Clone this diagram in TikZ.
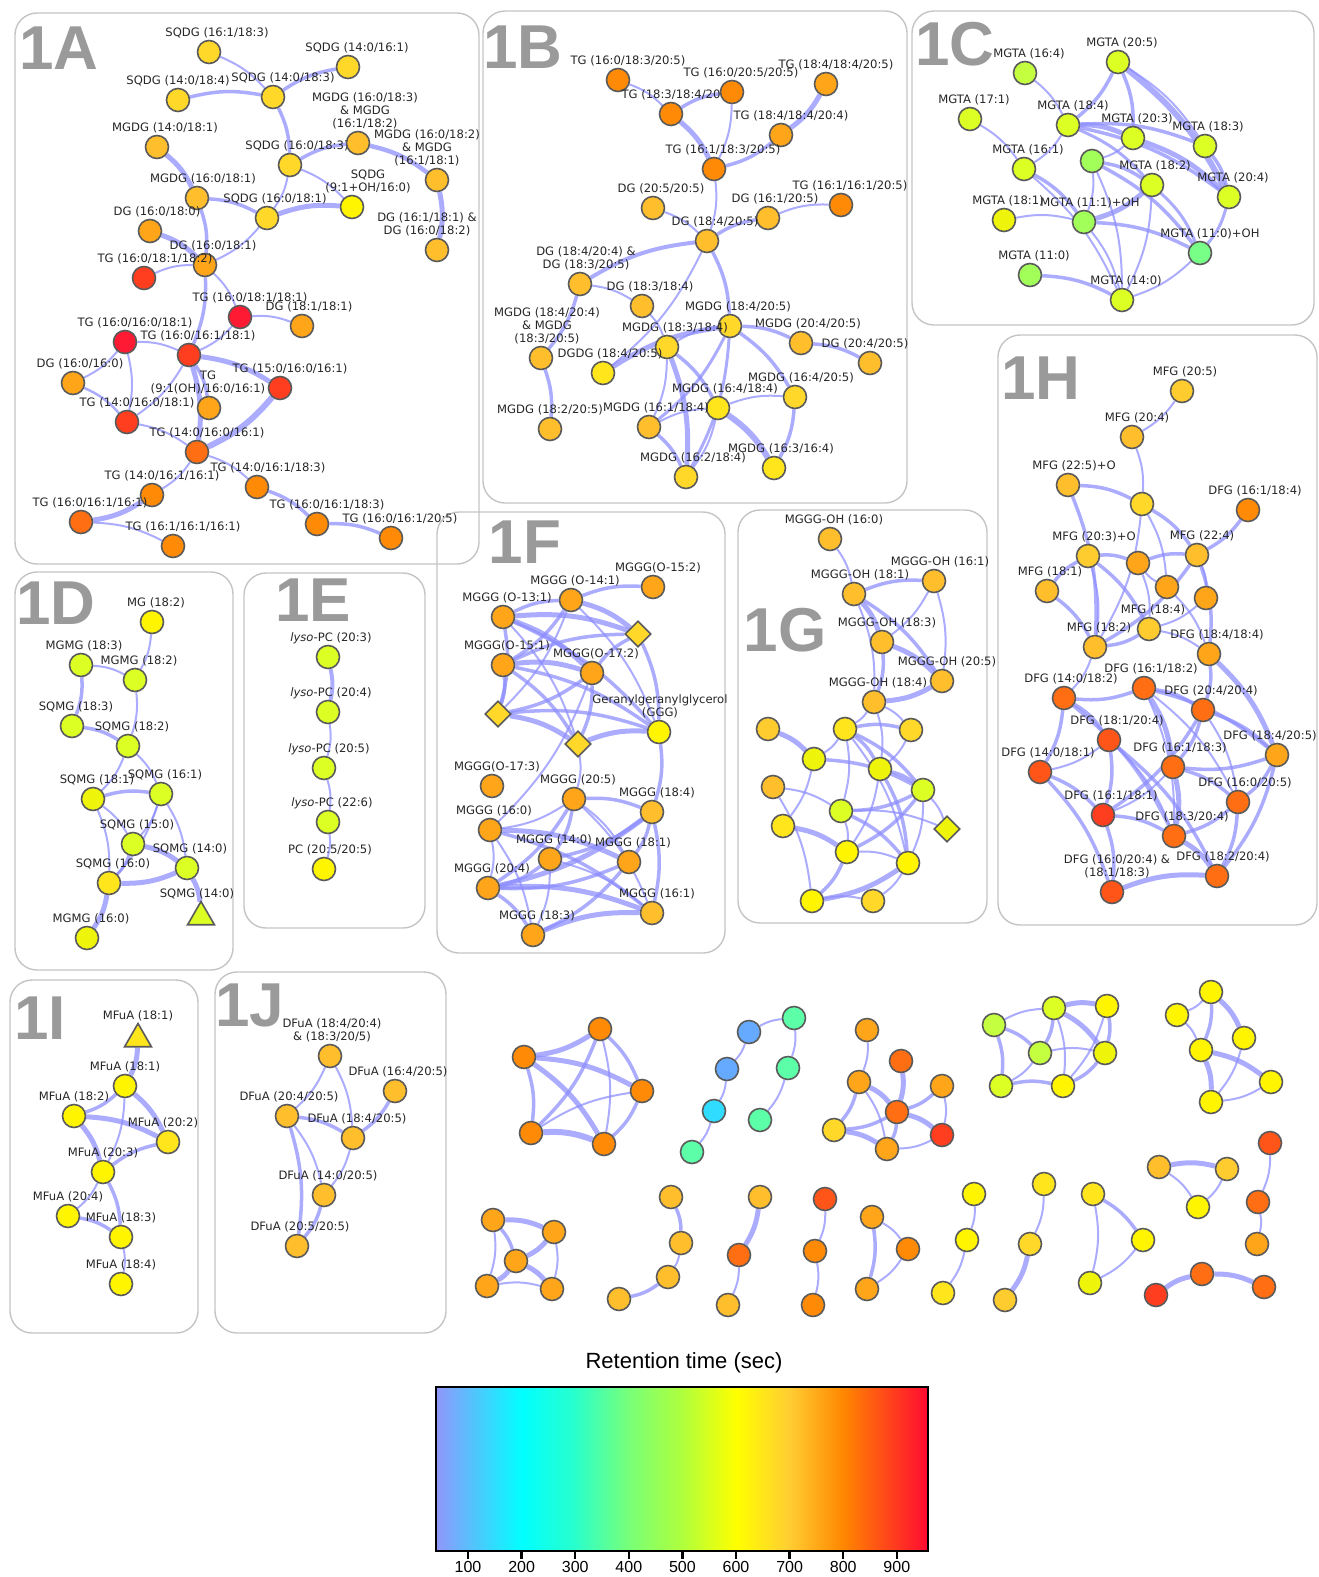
\documentclass[tikz,border=0pt]{standalone}
\usepackage{fontspec}
\newfontfamily\lblfont{DejaVu Sans}
\newfontfamily\arialfont{Liberation Sans}
\usetikzlibrary{shapes.geometric, backgrounds}
\definecolor{cgrey}{HTML}{5A5A5A}
\definecolor{cframe}{HTML}{C4C4C4}
\definecolor{cpanel}{HTML}{9A9A9A}
\definecolor{cedge}{HTML}{8C8CFF}
\definecolor{cR1}{HTML}{FF1A33}
\definecolor{cR2}{HTML}{FF3D1F}
\definecolor{cR3}{HTML}{FF5519}
\definecolor{cO1}{HTML}{FF6E12}
\definecolor{cO2}{HTML}{FF8A05}
\definecolor{cO3}{HTML}{FFA51A}
\definecolor{cO4}{HTML}{FFBE2C}
\definecolor{cY0}{HTML}{FFCC30}
\definecolor{cY1}{HTML}{FFD82A}
\definecolor{cY3}{HTML}{FFE61C}
\definecolor{cY2}{HTML}{FFF500}
\definecolor{cYY}{HTML}{EEF50A}
\definecolor{cYG}{HTML}{DCFF24}
\definecolor{cLG}{HTML}{C4FF40}
\definecolor{cG}{HTML}{A2FF5A}
\definecolor{cGM}{HTML}{77FF88}
\definecolor{cM}{HTML}{5CFFA8}
\definecolor{cC}{HTML}{30DCFF}
\definecolor{cB}{HTML}{66AAFF}
\definecolor{cb0}{RGB}{145,150,250}
\definecolor{cb1}{RGB}{0,255,255}
\definecolor{cb2}{RGB}{40,255,205}
\definecolor{cb3}{RGB}{120,255,120}
\definecolor{cb4}{RGB}{175,255,60}
\definecolor{cb5}{RGB}{255,255,0}
\definecolor{cb6}{RGB}{255,205,50}
\definecolor{cb7}{RGB}{255,135,0}
\definecolor{cb8}{RGB}{255,10,50}
\tikzset{
  every picture/.style={x=1pt, y=-1pt},
  nd/.style={circle, draw=cgrey, line width=1.6pt, minimum size=23pt, inner sep=0pt},
  tri/.style={regular polygon, regular polygon sides=3, draw=cgrey, line width=1.6pt, minimum size=31pt, inner sep=0pt},
  dia/.style={diamond, draw=cgrey, line width=1.6pt, minimum width=26pt, minimum height=26pt, inner sep=0pt},
  lbl/.style={font=\lblfont\fontsize{11.6}{13}\selectfont, text=black!85, inner sep=1pt, align=center},
  panel/.style={draw=cframe, line width=1.4pt, rounded corners=22pt},
  tag/.style={font=\arialfont\bfseries\fontsize{62}{62}\selectfont, text=cpanel, inner sep=0pt},
  edge/.style={draw=cedge, draw opacity=0.72, bend left=12},
  tick/.style={font=\arialfont\fontsize{16}{16}\selectfont, inner sep=0pt},
}
\begin{document}
\begin{tikzpicture}
  % \lnode{name}{x}{y}{fill}{dx}{text}: node with its label above, shifted dx to the right
  \newcommand{\lnode}[6]{\node[nd, fill=#4, label={[lbl, xshift=#5pt]above:#6}] (#1) at (#2,#3) {};}
  \useasboundingbox (0,0) rectangle (1319,1577);
  % panels
  \draw[panel] (15,13) rectangle (479,564);
  \draw[panel] (483,11) rectangle (907,503);
  \draw[panel] (912,11) rectangle (1314,325);
  \draw[panel] (15,572) rectangle (233,970);
  \draw[panel] (244,573) rectangle (425,928);
  \draw[panel] (437,512) rectangle (725,953);
  \draw[panel] (738,510) rectangle (987,923);
  \draw[panel] (998,335) rectangle (1317,925);
  \draw[panel] (10,980) rectangle (198,1333);
  \draw[panel] (215,972) rectangle (446,1333);
  \foreach \n/\x/\y in {1A/59/48, 1B/523/47, 1C/955/44, 1D/56/603, 1E/313/600, 1F/525/542, 1G/785/630, 1H/1041/378, 1I/40/1018, 1J/250/1005}
    \node[tag] (tag\n) at (\x,\y) {\n};

  % 1A
  \lnode{a1}{209}{52}{cY1}{8}{SQDG (16:1/18:3)}
  \lnode{a2}{348}{67}{cY1}{9}{SQDG (14:0/16:1)}
  \lnode{a3}{178}{100}{cY1}{0}{SQDG (14:0/18:4)}
  \lnode{a4}{273}{97}{cY1}{10}{SQDG (14:0/18:3)}
  \lnode{a7}{157}{147}{cO4}{8}{MGDG (14:0/18:1)}
  \lnode{a8}{290}{165}{cY1}{7}{SQDG (16:0/18:3)}
  \lnode{a5}{358}{143}{cO4}{7}{MGDG (16:0/18:3)\\\& MGDG\\(16:1/18:2)}
  \lnode{a6}{437}{180}{cO4}{-10}{MGDG (16:0/18:2)\\\& MGDG\\(16:1/18:1)}
  \lnode{a9}{352}{207}{cY2}{16}{SQDG\\(9:1+OH/16:0)}
  \lnode{a10}{197}{198}{cO4}{6}{MGDG (16:0/18:1)}
  \lnode{a11}{267}{218}{cY1}{8}{SQDG (16:0/18:1)}
  \lnode{a12}{150}{231}{cO3}{7}{DG (16:0/18:0)}
  \lnode{a13}{437}{250}{cO4}{-10}{DG (16:1/18:1) \&\\DG (16:0/18:2)}
  \lnode{a14}{205}{265}{cO3}{8}{DG (16:0/18:1)}
  \lnode{a15}{144}{278}{cR2}{11}{TG (16:0/18:1/18:2)}
  \lnode{a16}{240}{317}{cR1}{10}{TG (16:0/18:1/18:1)}
  \lnode{a17}{302}{326}{cO3}{7}{DG (18:1/18:1)}
  \lnode{a18}{125}{342}{cR1}{10}{TG (16:0/16:0/18:1)}
  \lnode{a19}{189}{355}{cR2}{9}{TG (16:0/16:1/18:1)}
  \lnode{a20}{73}{383}{cO3}{7}{DG (16:0/16:0)}
  \lnode{a21}{280}{388}{cR2}{10}{TG (15:0/16:0/16:1)}
  \lnode{a22}{209}{408}{cO3}{-1}{TG\\(9:1(OH)/16:0/16:1)}
  \lnode{a23}{127}{422}{cR2}{10}{TG (14:0/16:0/18:1)}
  \lnode{a24}{197}{452}{cO1}{10}{TG (14:0/16:0/16:1)}
  \lnode{a25}{257}{487}{cO2}{11}{TG (14:0/16:1/18:3)}
  \lnode{a26}{152}{495}{cO2}{10}{TG (14:0/16:1/16:1)}
  \lnode{a27}{81}{522}{cO1}{9}{TG (16:0/16:1/16:1)}
  \lnode{a28}{317}{524}{cO2}{10}{TG (16:0/16:1/18:3)}
  \lnode{a29}{173}{546}{cO2}{10}{TG (16:1/16:1/16:1)}
  \lnode{a30}{391}{538}{cO2}{9}{TG (16:0/16:1/20:5)}

  % 1B
  \lnode{b1}{618}{80}{cO2}{10}{TG (16:0/18:3/20:5)}
  \lnode{b4}{671}{114}{cO2}{0}{TG (18:3/18:4/20}
  \lnode{b2}{732}{92}{cO2}{9}{TG (16:0/20:5/20:5)}
  \lnode{b3}{826}{84}{cO3}{10}{TG (18:4/18:4/20:5)}
  \lnode{b5}{781}{135}{cO3}{10}{TG (18:4/18:4/20:4)}
  \lnode{b6}{714}{169}{cO2}{9}{TG (16:1/18:3/20:5)}
  \lnode{b7}{653}{208}{cO4}{8}{DG (20:5/20:5)}
  \lnode{b9}{841}{205}{cO2}{9}{TG (16:1/16:1/20:5)}
  \lnode{b8}{768}{218}{cO4}{7}{DG (16:1/20:5)}
  \lnode{b10}{707}{241}{cO4}{8}{DG (18:4/20:5)}
  \lnode{b11}{580}{284}{cO4}{6}{DG (18:4/20:4) \&\\DG (18:3/20:5)}
  \lnode{b12}{642}{306}{cO4}{8}{DG (18:3/18:4)}
  \lnode{b13}{730}{326}{cY1}{8}{MGDG (18:4/20:5)}
  \lnode{b14}{801}{343}{cO4}{7}{MGDG (20:4/20:5)}
  \lnode{b15}{541}{358}{cO4}{6}{MGDG (18:4/20:4)\\\& MGDG\\(18:3/20:5)}
  \lnode{b16}{667}{347}{cY1}{8}{MGDG (18:3/18:4)}
  \lnode{b17}{870}{363}{cO4}{-5}{DG (20:4/20:5)}
  \lnode{b18}{603}{373}{cY3}{7}{DGDG (18:4/20:5)}
  \lnode{b19}{795}{397}{cY1}{6}{MGDG (16:4/20:5)}
  \lnode{b20}{718}{408}{cY3}{7}{MGDG (16:4/18:4)}
  \lnode{b21}{550}{429}{cO4}{0}{MGDG (18:2/20:5)}
  \lnode{b22}{649}{427}{cO4}{7}{MGDG (16:1/18:4)}
  \lnode{b23}{774}{468}{cY3}{7}{MGDG (16:3/16:4)}
  \lnode{b24}{686}{477}{cY1}{7}{MGDG (16:2/18:4)}

  % 1C
  \lnode{c1}{1025}{73}{cLG}{4}{MGTA (16:4)}
  \lnode{c2}{1118}{62}{cYG}{4}{MGTA (20:5)}
  \lnode{c3}{970}{119}{cYG}{4}{MGTA (17:1)}
  \lnode{c4}{1068}{125}{cYG}{5}{MGTA (18:4)}
  \lnode{c5}{1133}{138}{cYG}{4}{MGTA (20:3)}
  \lnode{c6}{1205}{146}{cYG}{3}{MGTA (18:3)}
  \lnode{c7}{1024}{169}{cYG}{4}{MGTA (16:1)}
  \node[nd, fill=cG] (c8) at (1092,161) {};
  \lnode{c9}{1152}{185}{cYG}{3}{MGTA (18:2)}
  \lnode{c10}{1229}{197}{cYG}{4}{MGTA (20:4)}
  \lnode{c11}{1004}{220}{cYY}{4}{MGTA (18:1)}
  \lnode{c12}{1084}{222}{cG}{6}{MGTA (11:1)+OH}
  \lnode{c13}{1200}{253}{cGM}{10}{MGTA (11:0)+OH}
  \lnode{c14}{1030}{275}{cG}{4}{MGTA (11:0)}
  \lnode{c15}{1122}{300}{cYG}{4}{MGTA (14:0)}

  % 1D
  \lnode{d1}{152}{622}{cY2}{4}{MG (18:2)}
  \lnode{d2}{81}{665}{cYG}{3}{MGMG (18:3)}
  \lnode{d3}{135}{680}{cYG}{4}{MGMG (18:2)}
  \lnode{d4}{72}{726}{cYG}{4}{SQMG (18:3)}
  \lnode{d5}{128}{746}{cYG}{4}{SQMG (18:2)}
  \lnode{d6}{93}{799}{cYY}{4}{SQMG (18:1)}
  \lnode{d7}{161}{794}{cYG}{4}{SQMG (16:1)}
  \lnode{d8}{133}{844}{cYG}{4}{SQMG (15:0)}
  \lnode{d9}{187}{868}{cYG}{3}{SQMG (14:0)}
  \lnode{d10}{109}{883}{cY3}{4}{SQMG (16:0)}
  \node[tri, fill=cYG, label={[lbl, xshift=-4pt]above:SQMG (14:0)}] (d11) at (201,917) {};
  \lnode{d12}{87}{938}{cYY}{4}{MGMG (16:0)}

  % 1E
  \lnode{e1}{328}{657}{cYG}{3}{\textit{lyso}-PC (20:3)}
  \lnode{e2}{328}{712}{cYG}{3}{\textit{lyso}-PC (20:4)}
  \lnode{e3}{324}{768}{cYG}{5}{\textit{lyso}-PC (20:5)}
  \lnode{e4}{328}{822}{cYG}{4}{\textit{lyso}-PC (22:6)}
  \lnode{e5}{324}{869}{cY2}{6}{PC (20:5/20:5)}

  % 1F
  \lnode{f1}{653}{587}{cO3}{5}{MGGG(O-15:2)}
  \lnode{f2}{571}{600}{cO3}{4}{MGGG (O-14:1)}
  \lnode{f3}{503}{617}{cO3}{4}{MGGG (O-13:1)}
  \node[dia, fill=cY1] (f4) at (638,634) {};
  \lnode{f5}{503}{665}{cO3}{4}{MGGG(O-15:1)}
  \lnode{f6}{592}{673}{cO3}{4}{MGGG(O-17:2)}
  \lnode{f7}{659}{732}{cY2}{1}{Geranylgeranylglycerol\\(GGG)}
  \node[dia, fill=cY1] (f8) at (498,714) {};
  \node[dia, fill=cY1] (f9) at (578,744) {};
  \lnode{f10}{492}{786}{cO3}{5}{MGGG(O-17:3)}
  \lnode{f11}{574}{799}{cO3}{4}{MGGG (20:5)}
  \lnode{f12}{652}{812}{cO4}{5}{MGGG (18:4)}
  \lnode{f13}{490}{830}{cO3}{4}{MGGG (16:0)}
  \lnode{f14}{550}{859}{cO3}{4}{MGGG (14:0)}
  \lnode{f15}{629}{862}{cO3}{4}{MGGG (18:1)}
  \lnode{f16}{488}{888}{cO3}{4}{MGGG (20:4)}
  \lnode{f17}{652}{913}{cO4}{5}{MGGG (16:1)}
  \lnode{f18}{533}{935}{cO3}{4}{MGGG (18:3)}

  % 1G
  \lnode{g1}{830}{539}{cO4}{4}{MGGG-OH (16:0)}
  \lnode{g2}{934}{581}{cO4}{6}{MGGG-OH (16:1)}
  \lnode{g3}{854}{594}{cO4}{6}{MGGG-OH (18:1)}
  \lnode{g4}{882}{642}{cO4}{5}{MGGG-OH (18:3)}
  \lnode{g5}{942}{681}{cO4}{5}{MGGG-OH (20:5)}
  \lnode{g6}{874}{702}{cO4}{4}{MGGG-OH (18:4)}
  \foreach \n/\x/\y/\col in {g7/768/729/cY0, g8/845/729/cY3, g9/911/730/cY1, g10/814/759/cYY,
      g11/880/769/cYY, g12/773/787/cO4, g13/923/790/cYG, g14/841/811/cYG, g16/783/826/cY3,
      g17/847/852/cY2, g18/908/863/cY2, g19/812/901/cY2, g20/873/901/cY1}
    \node[nd, fill=\col] (\n) at (\x,\y) {};
  \node[dia, fill=cYY] (g15) at (947,829) {};

  % 1H
  \lnode{h1}{1182}{391}{cY0}{3}{MFG (20:5)}
  \lnode{h2}{1132}{437}{cO4}{5}{MFG (20:4)}
  \lnode{h3}{1068}{485}{cO4}{6}{MFG (22:5)+O}
  \node[nd, fill=cY1] (h4) at (1142,504) {};
  \lnode{h5}{1248}{510}{cO2}{7}{DFG (16:1/18:4)}
  \lnode{h6}{1088}{556}{cY0}{6}{MFG (20:3)+O}
  \node[nd, fill=cO3] (h7) at (1138,563) {};
  \lnode{h8}{1197}{555}{cO4}{5}{MFG (22:4)}
  \lnode{h9}{1047}{591}{cO4}{3}{MFG (18:1)}
  \node[nd, fill=cO3] (h10) at (1167,587) {};
  \node[nd, fill=cO3] (h11) at (1206,598) {};
  \lnode{h12}{1149}{629}{cY0}{4}{MFG (18:4)}
  \lnode{h13}{1095}{647}{cO4}{4}{MFG (18:2)}
  \lnode{h14}{1209}{654}{cO3}{8}{DFG (18:4/18:4)}
  \lnode{h15}{1144}{688}{cO1}{7}{DFG (16:1/18:2)}
  \lnode{h16}{1064}{698}{cO1}{7}{DFG (14:0/18:2)}
  \lnode{h17}{1203}{710}{cO1}{8}{DFG (20:4/20:4)}
  \lnode{h18}{1109}{740}{cR3}{8}{DFG (18:1/20:4)}
  \lnode{h19}{1277}{755}{cO3}{-7}{DFG (18:4/20:5)}
  \lnode{h20}{1040}{772}{cR3}{8}{DFG (14:0/18:1)}
  \lnode{h21}{1173}{767}{cO1}{7}{DFG (16:1/18:3)}
  \lnode{h22}{1238}{802}{cO1}{7}{DFG (16:0/20:5)}
  \lnode{h23}{1103}{815}{cR2}{8}{DFG (16:1/18:1)}
  \lnode{h24}{1174}{836}{cO1}{8}{DFG (18:3/20:4)}
  \lnode{h25}{1112}{892}{cR3}{5}{DFG (16:0/20:4) \&\\(18:1/18:3)}
  \lnode{h26}{1217}{876}{cO1}{6}{DFG (18:2/20:4)}

  % 1I
  \node[tri, fill=cY3, label={[lbl]above:MFuA (18:1)}] (i1) at (138,1039) {};
  \lnode{i2}{125}{1086}{cY2}{0}{MFuA (18:1)}
  \lnode{i3}{74}{1116}{cY2}{0}{MFuA (18:2)}
  \lnode{i4}{168}{1142}{cY3}{-5}{MFuA (20:2)}
  \lnode{i5}{103}{1172}{cY2}{0}{MFuA (20:3)}
  \lnode{i6}{68}{1216}{cY2}{0}{MFuA (20:4)}
  \lnode{i7}{121}{1237}{cY2}{0}{MFuA (18:3)}
  \lnode{i8}{121}{1284}{cY2}{0}{MFuA (18:4)}

  % 1J
  \lnode{j1}{330}{1056}{cO4}{2}{DFuA (18:4/20:4)\\\& (18:3/20/5)}
  \lnode{j2}{395}{1091}{cO4}{3}{DFuA (16:4/20:5)}
  \lnode{j3}{287}{1116}{cO4}{2}{DFuA (20:4/20:5)}
  \lnode{j4}{353}{1138}{cO4}{4}{DFuA (18:4/20:5)}
  \lnode{j5}{324}{1195}{cO4}{4}{DFuA (14:0/20:5)}
  \lnode{j6}{297}{1246}{cO4}{3}{DFuA (20:5/20:5)}

  % unlabelled clusters
  \foreach \n/\x/\y/\col in {k1/600/1029/cO2, k2/524/1057/cO2, k3/642/1091/cO2, k4/531/1133/cO2, k5/604/1144/cO2,
      l1/749/1032/cB, l2/794/1018/cM, l3/727/1069/cB, l4/788/1068/cM, l5/714/1111/cC, l6/760/1120/cM, l7/692/1152/cM,
      m1/867/1030/cO3, m2/901/1061/cO1, m3/859/1082/cO3, m4/942/1086/cO3, m5/897/1112/cO1, m6/834/1130/cY1, m7/942/1135/cR2, m8/887/1149/cO3,
      n1/994/1025/cLG, n2/1054/1008/cYG, n3/1107/1006/cY2, n4/1040/1053/cLG, n5/1105/1053/cYY, n6/1001/1086/cYG, n7/1063/1086/cY2,
      o1/1211/992/cY2, o2/1177/1015/cY2, o3/1244/1038/cY2, o4/1201/1050/cY2, o5/1271/1082/cY2, o6/1211/1102/cY2,
      p1/493/1220/cO3, p2/554/1232/cO3, p3/516/1261/cO3, p4/487/1286/cO3, p5/552/1289/cO3,
      q1/671/1197/cO4, q2/681/1243/cO4, q3/668/1277/cO4, q4/619/1299/cO4,
      r1/760/1197/cO4, r2/739/1255/cO1, r3/728/1305/cO4,
      s1/825/1199/cR3, s2/815/1251/cO2, s3/813/1305/cO2,
      t1/872/1217/cO3, t2/908/1249/cO2, t3/867/1289/cO3,
      u1/974/1194/cY2, u2/967/1240/cY2, u3/943/1293/cY3,
      v1/1044/1184/cY3, v2/1030/1244/cY1, v3/1005/1300/cY0,
      w1/1093/1194/cY3, w2/1143/1240/cY2, w3/1090/1283/cYY,
      x1/1159/1167/cO4, x2/1227/1169/cY0, x3/1198/1207/cY2,
      y1/1270/1143/cR3, y2/1258/1202/cO1, y3/1257/1244/cO3,
      z1/1156/1295/cR2, z2/1202/1274/cO1, z3/1264/1287/cO1}
    \node[nd, fill=\col] (\n) at (\x,\y) {};

  % edges: from/to/width
  \begin{scope}[on background layer]
    \foreach \u/\v/\w in {a1/a4/2, a3/a4/3.5, a4/a2/3.5, a4/a8/3.5, a8/a5/3.5, a5/a6/4.5, a6/a13/5,
        a8/a9/2, a8/a11/2, a7/a10/5, a10/a11/3.5, a11/a9/5, a10/a14/3.5, a12/a14/5, a11/a14/2,
        a15/a14/2, a14/a19/3.5, a14/a16/2, a16/a17/2, a16/a19/2, a18/a19/2, a18/a20/2, a18/a23/2,
        a20/a23/2.5, a19/a23/2, a19/a21/5, a19/a22/3.5, a19/a24/5, a21/a24/6, a23/a24/2, a24/a26/2,
        a24/a25/2, a26/a27/5, a27/a29/2, a25/a28/3.5, a28/a30/3.5,
        b1/b4/2, b4/b2/3.5, b2/b6/2, b4/b6/5, b3/b5/5, b5/b6/3.5, b6/b10/2, b7/b10/2, b10/b8/3.5,
        b8/b9/2, b11/b10/4, b10/b18/2, b10/b13/3.5, b11/b12/2, b11/b15/3.5, b12/b16/2, b16/b13/2,
        b18/b13/5, b13/b14/3.5, b14/b17/3.5, b13/b19/3.5, b13/b22/3, b16/b20/3.5, b16/b22/2, b16/b24/5,
        b22/b20/2, b22/b24/3.5, b20/b24/2, b20/b23/6, b20/b19/2, b19/b23/3.5, b15/b21/3.5, b13/b24/3,
        c1/c4/2, c3/c7/2, c2/c4/3.5, c2/c5/3.5, c2/c10/6, c10/c13/3, c2/c6/2, c4/c5/5, c4/c6/3.5,
        c4/c10/3.5, c4/c9/3, c4/c7/2, c5/c10/5, c5/c8/2, c6/c10/3.5, c7/c12/3.5, c7/c15/2, c8/c9/3.5,
        c8/c13/3.5, c8/c15/2, c9/c12/5, c9/c15/2, c9/c13/3, c11/c12/2, c12/c13/3.5, c12/c15/2,
        c14/c15/3.5, c13/c15/2, c8/c12/2,
        d1/d3/2, d2/d3/2, d2/d4/3.5, d3/d5/2, d4/d5/3.5, d5/d6/2, d5/d7/2, d6/d7/3.5, d6/d8/2,
        d6/d10/2, d7/d8/2, d7/d10/2, d7/d9/2, d8/d9/5, d9/d10/5, d9/d11/5, d10/d12/5, d8/d10/3,
        e1/e2/4, e2/e3/2, e3/e4/2, e4/e5/2,
        f2/f1/3.5, f3/f2/3.5, f3/f4/5, f3/f6/5, f3/f8/3.5, f3/f7/3.5, f3/f9/2, f2/f5/3.5, f2/f8/2,
        f2/f4/5, f2/f7/2, f5/f4/3.5, f5/f6/5, f5/f8/3.5, f5/f7/3.5, f5/f9/3.5, f6/f4/3.5, f6/f8/3.5,
        f6/f9/3.5, f4/f7/3.5, f8/f9/5, f9/f7/5, f8/f7/3.5, f6/f13/2, f9/f11/2, f7/f12/3.5, f11/f12/3.5,
        f11/f13/2, f11/f14/3.5, f11/f15/2, f11/f17/2, f11/f16/3.5, f12/f15/3.5, f12/f16/5, f12/f17/3.5,
        f12/f14/3.5, f13/f15/5, f13/f17/3.5, f13/f16/2, f13/f18/2, f14/f16/3.5, f14/f18/2, f14/f17/2,
        f15/f16/3.5, f15/f18/3.5, f16/f18/3.5, f16/f17/5, f18/f17/5,
        g1/g3/2, g3/g2/3.5, g3/g4/5, g3/g5/3.5, g3/g6/2, g2/g4/2, g2/g5/2, g4/g5/5, g4/g6/3.5,
        g5/g6/5, g6/g8/2, g6/g9/2, g6/g11/2, g7/g10/5, g8/g9/3.5, g8/g10/2, g8/g11/3.5, g8/g13/3.5,
        g8/g14/2, g8/g18/2, g10/g13/3.5, g10/g16/2, g9/g11/2, g11/g13/3.5, g11/g17/2, g11/g18/3.5,
        g12/g14/2, g12/g19/2, g13/g14/3.5, g13/g17/3.5, g13/g15/2, g13/g18/2, g14/g15/2, g14/g18/3.5,
        g14/g17/2, g16/g17/5, g17/g18/2, g17/g19/3.5, g18/g19/5, g19/g20/2, g18/g20/2,
        h1/h2/2, h2/h4/2, h3/h4/3.5, h3/h13/3.5, h4/h8/3.5, h4/h13/2, h4/h10/2, h5/h8/3.5, h6/h7/3.5,
        h6/h12/3.5, h6/h13/2, h7/h8/3.5, h7/h12/2, h8/h11/2, h8/h13/3.5, h8/h14/3.5, h9/h6/3.5,
        h9/h13/3.5, h10/h7/2, h10/h14/2, h11/h12/2, h12/h13/3.5, h12/h14/2, h13/h16/2, h14/h17/3.5,
        h14/h19/5, h15/h16/3.5, h15/h17/3.5, h15/h21/5, h15/h19/3.5, h15/h24/2, h16/h18/3.5,
        h16/h20/3.5, h16/h24/3.5, h17/h21/3.5, h17/h19/3.5, h17/h23/3.5, h17/h22/2, h18/h20/2,
        h18/h23/3.5, h18/h24/2, h18/h26/3.5, h19/h21/3.5, h19/h22/3.5, h19/h26/3.5, h20/h23/3.5,
        h20/h25/3.5, h21/h23/2, h21/h24/5, h21/h22/3.5, h22/h24/3.5, h22/h26/3.5, h23/h25/3.5,
        h23/h24/3.5, h24/h26/5, h25/h26/5, h15/h22/2,
        i1/i2/5, i2/i3/3.5, i2/i4/5, i2/i5/2, i3/i4/5, i3/i5/5, i5/i4/3.5, i5/i6/2, i5/i7/3.5,
        i6/i7/3.5, i7/i8/2,
        j1/j3/2, j1/j4/2, j3/j4/3.5, j2/j4/3.5, j3/j5/2, j3/j6/3.5, j4/j5/2, j5/j6/3.5,
        k1/k2/5, k1/k3/3.5, k1/k4/3.5, k1/k5/2, k2/k3/5, k2/k4/3.5, k2/k5/5, k4/k3/2, k4/k5/6, k3/k5/3.5,
        l1/l2/2, l1/l3/2, l3/l5/2, l5/l7/2, l2/l4/2, l4/l6/2,
        m1/m3/2, m2/m5/5, m3/m5/5, m3/m6/3.5, m3/m8/2, m4/m5/3.5, m4/m7/2, m5/m6/3.5, m5/m7/5,
        m5/m8/3.5, m6/m8/5, m7/m8/2,
        n1/n2/2, n1/n4/3.5, n1/n6/3.5, n2/n3/5, n2/n4/3.5, n2/n5/5, n2/n7/2, n3/n5/3.5, n3/n7/2,
        n4/n5/2, n4/n6/2, n5/n7/3.5, n6/n7/3.5,
        o1/o2/2, o1/o3/5, o1/o4/3.5, o2/o4/2, o4/o5/5, o4/o6/5, o3/o6/2, o5/o6/2,
        p1/p2/5, p1/p3/3.5, p1/p4/2, p2/p3/5, p2/p5/2, p3/p4/5, p3/p5/5, p4/p5/2,
        q1/q2/3.5, q2/q3/2, q3/q4/3.5, r1/r2/5, r2/r3/2, s1/s2/2, s2/s3/2,
        t1/t2/2, t1/t3/3.5, t2/t3/2, u1/u2/2, u2/u3/2, v1/v2/2, v2/v3/5,
        w1/w2/3.5, w1/w3/2, w2/w3/2, x1/x2/5, x1/x3/2, x2/x3/2, y1/y2/2, y2/y3/2, z1/z2/5, z2/z3/5}
      \draw[edge, line width=\w pt] (\u) to (\v);
  \end{scope}

  % colour bar
  \node[font=\arialfont\fontsize{22}{22}\selectfont, inner sep=0pt] (cbtitle) at (684,1363) {Retention time (sec)};
  \foreach \xa/\xb/\ca/\cb in {436/522/cb0/cb1, 522/574/cb1/cb2, 574/629/cb2/cb3, 629/682/cb3/cb4,
      682/736/cb4/cb5, 736/789/cb5/cb6, 789/843/cb6/cb7, 843/928/cb7/cb8}
    \shade[left color=\ca, right color=\cb] (\xa,1387) rectangle (\xb,1551);
  \draw[line width=1.5pt] (436,1387) rectangle (928,1551);
  \foreach \t [count=\k] in {100,200,...,900} {
    \draw[line width=2.5pt] ({468+(\k-1)*53.6},1551) -- ++(0,8);
    \node[tick, anchor=north] (tk\t) at ({468+(\k-1)*53.6},1561) {\t};
  }
\end{tikzpicture}
\end{document}
